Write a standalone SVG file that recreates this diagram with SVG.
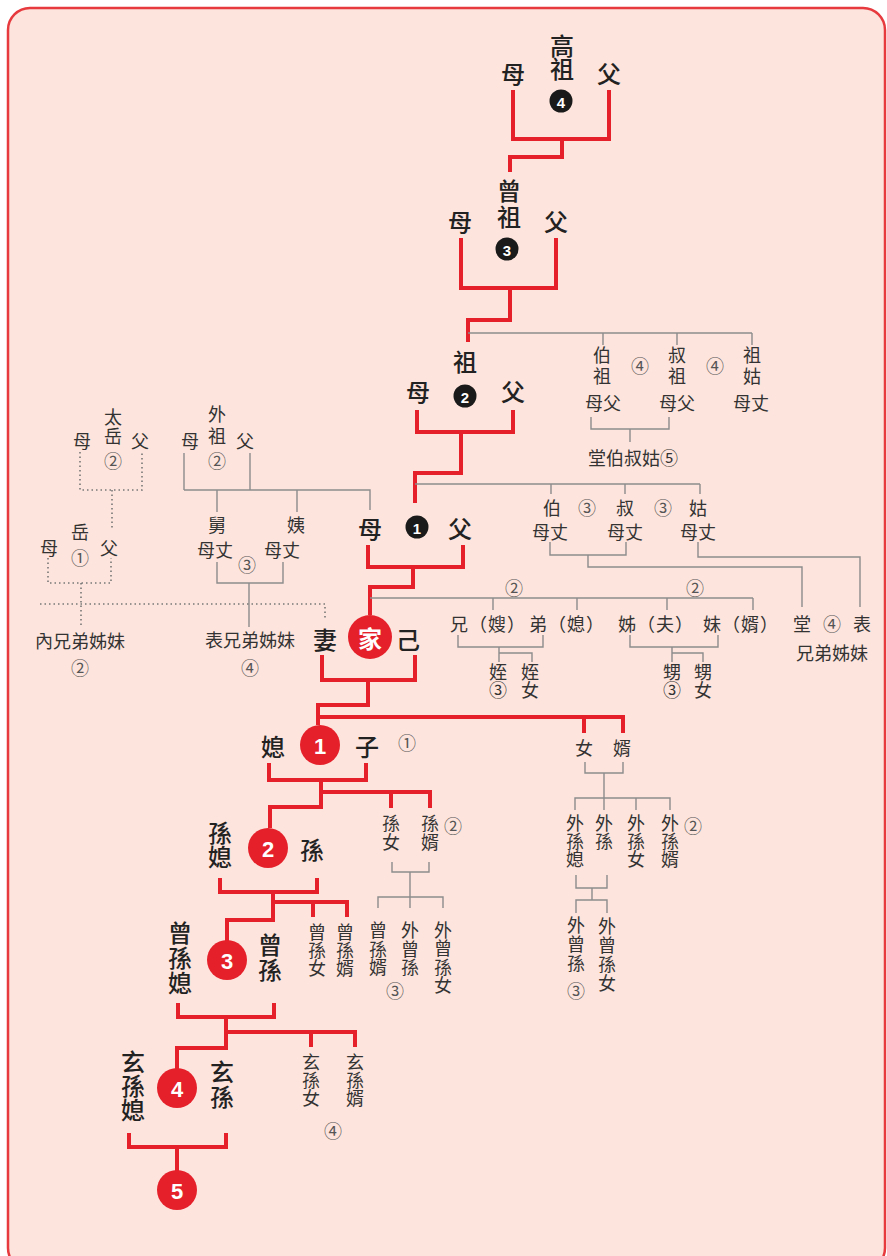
<svg xmlns="http://www.w3.org/2000/svg" width="887" height="1256" viewBox="0 0 887 1256">
<style>
.r{stroke:#e5202b;stroke-width:4;fill:none;stroke-linejoin:miter}
.g{stroke:#8c8c8c;stroke-width:1.4;fill:none}
.d{stroke:#777;stroke-width:1.6;stroke-dasharray:1.5 3;fill:none}
text{text-anchor:middle;dominant-baseline:central;font-family:"Noto Sans CJK TC","Noto Sans CJK SC",sans-serif}
.v{writing-mode:vertical-rl}
.b{font-size:24px;font-weight:500;fill:#222}
.s{font-size:18px;fill:#333}
.c{font-size:18px;fill:#555}
.kc{fill:#1a1a1a}
.rc{fill:#e5202b}
.kn{font-family:"Liberation Sans",Arial,sans-serif;font-weight:bold;font-size:15px;fill:#fff}
.rn{font-family:"Liberation Sans",Arial,sans-serif;font-weight:bold;font-size:22px;fill:#fff}
</style>
<rect x="8" y="8" width="877" height="1262" rx="22" fill="#fde4dc" stroke="#e63a3f" stroke-width="2.5"/>
<g id="connectors">
<path class="r" d="M513,90V139H609V90M562,139V157H510V172M461,238V288H556V238M510,288V320H468V342M417,410V432H513V410M461,432V473H415V503M368,545V567H463V545M413,567V587H370V615M322,655V680H415V655M368,680V705H318V725M318,717H623V733M584,717V733M269,763V780H366V763M321,780V807H270V828M321,792H430V808M391,792V808M220,878V892H317V878M273,892V920H227V941M273,902H347V917M313,902V917M178,1003V1017H274V1003M226,1017V1048H177V1069M226,1032H355V1047M311,1032V1047M129,1133V1147H226V1133M177,1147V1171"/>
<path class="g" d="M468,333H752M603,333V345M677,333V345M752,333V345M591,417V429H669V417M630,429V442M415,484H700M551,484V494M625,484V494M700,484V494M550,542V555H626V542M588,555V567H802V607M698,542V557H860V607M184,453V490M250,453V490M184,490H370V510M217,490V512M297,490V512M217,562V583H283V562M249,583V627M370,598H753M493,598V610M577,598V610M667,598V610M753,598V610M458,635V647H543V635M499,647V662M499,653H532V662M630,635V647H718V635M672,647V662M672,653H703V662M585,762V773H623V762M604,773V798M575,810V798H670V810M604,798V810M636,798V810M576,875V888H607V875M592,888V900M576,913V900H607V913M392,862V872H429V862M410,872V897M378,908V897H443V908M410,897V908"/>
<path class="d" d="M80,452V490H142V452M112,490V530M48,558V583H111V558M81,583V627M40,604H325V620"/>
</g>
<g id="gaozu"><text class="b v" x="562" y="57" letter-spacing="-1">高祖</text><text class="b" x="513" y="72">母</text><text class="b" x="609" y="72">父</text><circle class="kc" cx="561" cy="101" r="11.5"/><text class="kn" x="561" y="102">4</text></g>
<g id="zengzu"><text class="b v" x="509" y="205" letter-spacing="2">曾祖</text><text class="b" x="460" y="220">母</text><text class="b" x="556" y="220">父</text><circle class="kc" cx="507" cy="249" r="11.5"/><text class="kn" x="507" y="250">3</text></g>
<g id="zu"><text class="b" x="465" y="360">祖</text><text class="b" x="418" y="390">母</text><text class="b" x="513" y="390">父</text><circle class="kc" cx="465" cy="396" r="11.5"/><text class="kn" x="465" y="397">2</text></g>
<g id="fumu"><text class="b" x="370" y="527">母</text><text class="b" x="460" y="527">父</text><circle class="kc" cx="417" cy="527" r="11.5"/><text class="kn" x="417" y="528">1</text></g>
<g id="self"><text class="b" x="325" y="638" font-weight="bold">妻</text><circle class="rc" cx="370" cy="637" r="22"/><text class="b" x="370" y="637" style="fill:#fff;font-weight:bold">家</text><text class="b" x="408" y="638">己</text></g>
<g id="bozu"><text class="s v" x="602" y="367" letter-spacing="3">伯祖</text><text class="c" x="640" y="365">④</text><text class="s v" x="677" y="367" letter-spacing="3">叔祖</text><text class="c" x="715" y="365">④</text><text class="s v" x="752" y="367" letter-spacing="3">祖姑</text><text class="s" x="603" y="402">母父</text><text class="s" x="677" y="402">母父</text><text class="s" x="751" y="402">母丈</text></g>
<g id="tangboshugu"><text class="s" x="633" y="457">堂伯叔姑⑤</text></g>
<g id="boshugu"><text class="s" x="552" y="507">伯</text><text class="c" x="587" y="507">③</text><text class="s" x="625" y="507">叔</text><text class="c" x="663" y="507">③</text><text class="s" x="698" y="507">姑</text><text class="s" x="550" y="531">母丈</text><text class="s" x="625" y="531">母丈</text><text class="s" x="698" y="531">母丈</text></g>
<g id="tangbiao"><text class="s" x="802" y="623">堂</text><text class="c" x="832" y="623">④</text><text class="s" x="862" y="623">表</text><text class="s" x="832" y="652">兄弟姊妹</text></g>
<g id="siblings"><text class="c" x="514" y="587">②</text><text class="c" x="695" y="587">②</text><text class="s" x="488" y="623" letter-spacing="1">兄（嫂）</text><text class="s" x="567" y="623" letter-spacing="1">弟（媳）</text><text class="s" x="656" y="623" letter-spacing="1">姊（夫）</text><text class="s" x="741" y="623" letter-spacing="1">妹（婿）</text></g>
<g id="zhi"><text class="s v" x="498" y="681">姪③</text><text class="s v" x="530" y="681">姪女</text></g>
<g id="sheng"><text class="s v" x="672" y="681">甥③</text><text class="s v" x="703" y="681">甥女</text></g>
<g id="taiyue"><text class="s v" x="113" y="427" letter-spacing="1">太岳</text><text class="c" x="113" y="460">②</text><text class="s" x="82" y="440">母</text><text class="s" x="140" y="440">父</text></g>
<g id="yue"><text class="s" x="80" y="531">岳</text><text class="c" x="80" y="557">①</text><text class="s" x="49" y="547">母</text><text class="s" x="109" y="547">父</text></g>
<g id="neixiongdi"><text class="s" x="80" y="640">內兄弟姊妹</text><text class="c" x="80" y="667">②</text></g>
<g id="waizu"><text class="s v" x="217" y="427" letter-spacing="4">外祖</text><text class="c" x="217" y="460">②</text><text class="s" x="190" y="440">母</text><text class="s" x="245" y="440">父</text></g>
<g id="jiuyi"><text class="s v" x="217" y="525">舅</text><text class="s" x="215" y="549">母丈</text><text class="s v" x="296" y="525">姨</text><text class="s" x="282" y="549">母丈</text><text class="c" x="247" y="564">③</text></g>
<g id="biaoxiongdi"><text class="s" x="250" y="639">表兄弟姊妹</text><text class="c" x="250" y="667">④</text></g>
<g id="zi"><text class="b" x="273" y="745">媳</text><circle class="rc" cx="320" cy="745" r="20"/><text class="rn" x="320" y="746">1</text><text class="b" x="367" y="745">子</text><text class="c" x="407" y="742">①</text></g>
<g id="nvxu"><text class="s" x="584" y="747">女</text><text class="s" x="622" y="747">婿</text></g>
<g id="sun"><text class="b v" x="220" y="845">孫媳</text><circle class="rc" cx="268" cy="848" r="20"/><text class="rn" x="268" y="849">2</text><text class="b" x="312" y="848">孫</text></g>
<g id="sunnv"><text class="s v" x="391" y="833" letter-spacing="1">孫女</text><text class="s v" x="430" y="833" letter-spacing="1">孫婿</text><text class="c" x="453" y="825">②</text></g>
<g id="waisun"><text class="s v" x="575" y="841">外孫媳</text><text class="s v" x="604" y="832">外孫</text><text class="s v" x="636" y="841">外孫女</text><text class="s v" x="670" y="841">外孫婿</text><text class="c" x="693" y="825">②</text></g>
<g id="waizengsun2"><text class="s v" x="576" y="945" letter-spacing="1">外曾孫</text><text class="c" x="576" y="990">③</text><text class="s v" x="607" y="955" letter-spacing="1">外曾孫女</text></g>
<g id="zengsun"><text class="b v" x="180" y="958" letter-spacing="1">曾孫媳</text><circle class="rc" cx="227" cy="960" r="20"/><text class="rn" x="227" y="961">3</text><text class="b v" x="270" y="958" letter-spacing="1">曾孫</text></g>
<g id="zengsunnv"><text class="s v" x="317" y="950">曾孫女</text><text class="s v" x="345" y="950">曾孫婿</text></g>
<g id="waizengsun1"><text class="s v" x="378" y="949" letter-spacing="0.5">曾孫婿</text><text class="c" x="395" y="990">③</text><text class="s v" x="410" y="949" letter-spacing="0.5">外曾孫</text><text class="s v" x="443" y="958" letter-spacing="0.5">外曾孫女</text></g>
<g id="xuansun"><text class="b v" x="133" y="1086">玄孫媳</text><circle class="rc" cx="177" cy="1088" r="20"/><text class="rn" x="177" y="1089">4</text><text class="b v" x="222" y="1085" letter-spacing="1">玄孫</text></g>
<g id="xuansunnv"><text class="s v" x="311" y="1080">玄孫女</text><text class="s v" x="355" y="1080">玄孫婿</text><text class="c" x="333" y="1130">④</text></g>
<g id="gen5"><circle class="rc" cx="177" cy="1190" r="20"/><text class="rn" x="177" y="1191">5</text></g>
</svg>
